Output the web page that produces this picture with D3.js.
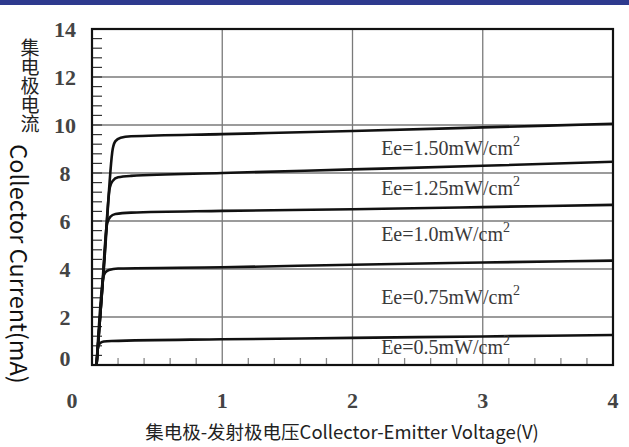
<!DOCTYPE html>
<html>
<head>
<meta charset="utf-8">
<script src="https://cdn.jsdelivr.net/npm/d3@7"></script>
<style>
  body { margin: 0; background: #fff; }
  svg { display: block; }
</style>
</head>
<body>
<div id="chart"></div>
<script>
// curves: [voltage (V), current (mA)]
const ee150 = [[0.035, 0], [0.097, 4.5], [0.159, 9.0], [0.18, 9.33], [0.22, 9.47], [0.3, 9.53], [1, 9.62], [2, 9.75], [3, 9.9], [4, 10.05]];
const ee125 = [[0.035, 0], [0.086, 3.7], [0.137, 7.4], [0.16, 7.68], [0.2, 7.82], [0.3, 7.88], [1, 8.0], [2, 8.15], [3, 8.3], [4, 8.47]];
const ee100 = [[0.035, 0], [0.075, 2.95], [0.116, 5.9], [0.14, 6.17], [0.18, 6.29], [0.3, 6.35], [1, 6.42], [2, 6.49], [3, 6.58], [4, 6.67]];
const ee075 = [[0.035, 0], [0.085, 3.6], [0.1, 3.84], [0.13, 3.96], [0.2, 4.02], [1, 4.07], [2, 4.18], [3, 4.27], [4, 4.35]];
const ee050 = [[0.035, 0], [0.045, 0.7], [0.06, 0.9], [0.09, 0.98], [0.15, 1.0], [1, 1.07], [2, 1.13], [3, 1.19], [4, 1.25]];

const seriesNames = ['Ee=1.50mW/cm', 'Ee=1.25mW/cm', 'Ee=1.0mW/cm', 'Ee=0.75mW/cm', 'Ee=0.5mW/cm'];
const labelLevels = [8.75, 7.1, 5.17, 2.54, 0.47];   // mA where each label sits
const labelVolt = 2.22;

const xTicks = [0, 1, 2, 3, 4];
const yTicks = [0, 2, 4, 6, 8, 10, 12, 14];
const yTitleCn = '集电极电流';
const yTitleEn = 'Collector Current(mA)';
const xTitle = '集电极-发射极电压Collector-Emitter Voltage(V)';

const width = 629, height = 447;

const svg = d3.select('#chart').append('svg')
  .attr('width', width)
  .attr('height', height);

svg.append('rect').attr('width', width).attr('height', height).attr('fill', '#fff');
// blue strip along the top
svg.append('rect').attr('width', width).attr('height', 5).attr('fill', '#2e3a8e');

const x = d3.scaleLinear().domain([0, 4]).range([92, 613]);
const y = d3.scaleLinear().domain([0, 14]).range([365, 29]);

// grid
svg.append('g')
  .selectAll('line')
  .data(xTicks.slice(1, -1))
  .enter()
  .append('line')
  .attr('x1', d => x(d)).attr('x2', d => x(d))
  .attr('y1', y(14)).attr('y2', y(0))
  .attr('stroke', '#7a7a7a')
  .attr('stroke-width', 1.3);

svg.append('g')
  .selectAll('line')
  .data(yTicks.slice(1, -1))
  .enter()
  .append('line')
  .attr('x1', x(0)).attr('x2', x(4))
  .attr('y1', d => y(d)).attr('y2', d => y(d))
  .attr('stroke', '#7a7a7a')
  .attr('stroke-width', 1.3);

// minor ticks
const xMinor = d3.range(0.2, 4, 0.2).filter(v => Math.abs(v - Math.round(v)) > 0.01);
svg.append('g')
  .selectAll('line')
  .data(xMinor)
  .enter()
  .append('line')
  .attr('x1', d => x(d)).attr('x2', d => x(d))
  .attr('y1', y(0)).attr('y2', y(0) - 7)
  .attr('stroke', '#8a8a8a')
  .attr('stroke-width', 1.3);

const yMinor = d3.range(0.4, 14, 0.4);
svg.append('g')
  .selectAll('line')
  .data(yMinor)
  .enter()
  .append('line')
  .attr('x1', x(0)).attr('x2', x(0) + 10)
  .attr('y1', d => y(d)).attr('y2', d => y(d))
  .attr('stroke', '#333')
  .attr('stroke-width', 1.2);

// curves
const line = d3.line()
  .x(d => x(d[0]))
  .y(d => y(d[1]))
  .curve(d3.curveMonotoneX);

const curves = [ee150, ee125, ee100, ee075, ee050];
svg.append('g')
  .selectAll('path')
  .data(curves)
  .enter()
  .append('path')
  .attr('d', line)
  .attr('fill', 'none')
  .attr('stroke', '#111')
  .attr('stroke-width', 2.6)
  .attr('stroke-linejoin', 'round');

// frame
svg.append('rect')
  .attr('x', x(0)).attr('y', y(14))
  .attr('width', x(4) - x(0)).attr('height', y(0) - y(14))
  .attr('fill', 'none')
  .attr('stroke', '#111')
  .attr('stroke-width', 2.2);

// curve labels
const labels = svg.append('g')
  .selectAll('text')
  .data(seriesNames)
  .enter()
  .append('text')
  .attr('x', x(labelVolt))
  .attr('y', (d, i) => y(labelLevels[i]))
  .attr('font-family', '"Liberation Serif", serif')
  .attr('font-size', 20)
  .attr('fill', '#3a3a3a')
  .text(d => d);
labels.append('tspan')
  .attr('dy', -9)
  .attr('font-size', 14)
  .text('2');

// tick labels
svg.append('g')
  .selectAll('text')
  .data(yTicks)
  .enter()
  .append('text')
  .attr('x', 65)
  .attr('y', d => y(d) - (d === 0 ? 7 : 0))
  .attr('text-anchor', 'middle')
  .attr('dominant-baseline', 'central')
  .attr('font-family', '"Liberation Serif", serif')
  .attr('font-size', 22)
  .attr('font-weight', 'bold')
  .attr('fill', '#444')
  .text(d => d);

svg.append('g')
  .selectAll('text')
  .data(xTicks)
  .enter()
  .append('text')
  .attr('x', d => x(d) + (d === 0 ? -20 : 0))
  .attr('y', 400)
  .attr('text-anchor', 'middle')
  .attr('dominant-baseline', 'central')
  .attr('font-family', '"Liberation Serif", serif')
  .attr('font-size', 22)
  .attr('font-weight', 'bold')
  .attr('fill', '#444')
  .text(d => d);

// axis titles
svg.append('text')
  .attr('x', 30)
  .attr('y', 38)
  .style('writing-mode', 'vertical-rl')
  .attr('font-family', '"Noto Sans CJK SC", sans-serif')
  .attr('font-size', 19)
  .attr('fill', '#222')
  .text(yTitleCn);

svg.append('text')
  .attr('transform', 'translate(10,264) rotate(90)')
  .attr('text-anchor', 'middle')
  .attr('font-family', '"Noto Sans CJK SC", sans-serif')
  .attr('font-size', 23.5)
  .attr('fill', '#111')
  .text(yTitleEn);

svg.append('text')
  .attr('x', 342)
  .attr('y', 439)
  .attr('text-anchor', 'middle')
  .attr('font-family', '"Noto Sans CJK SC", sans-serif')
  .attr('font-size', 18.5)
  .attr('fill', '#222')
  .text(xTitle);
</script>
</body>
</html>
